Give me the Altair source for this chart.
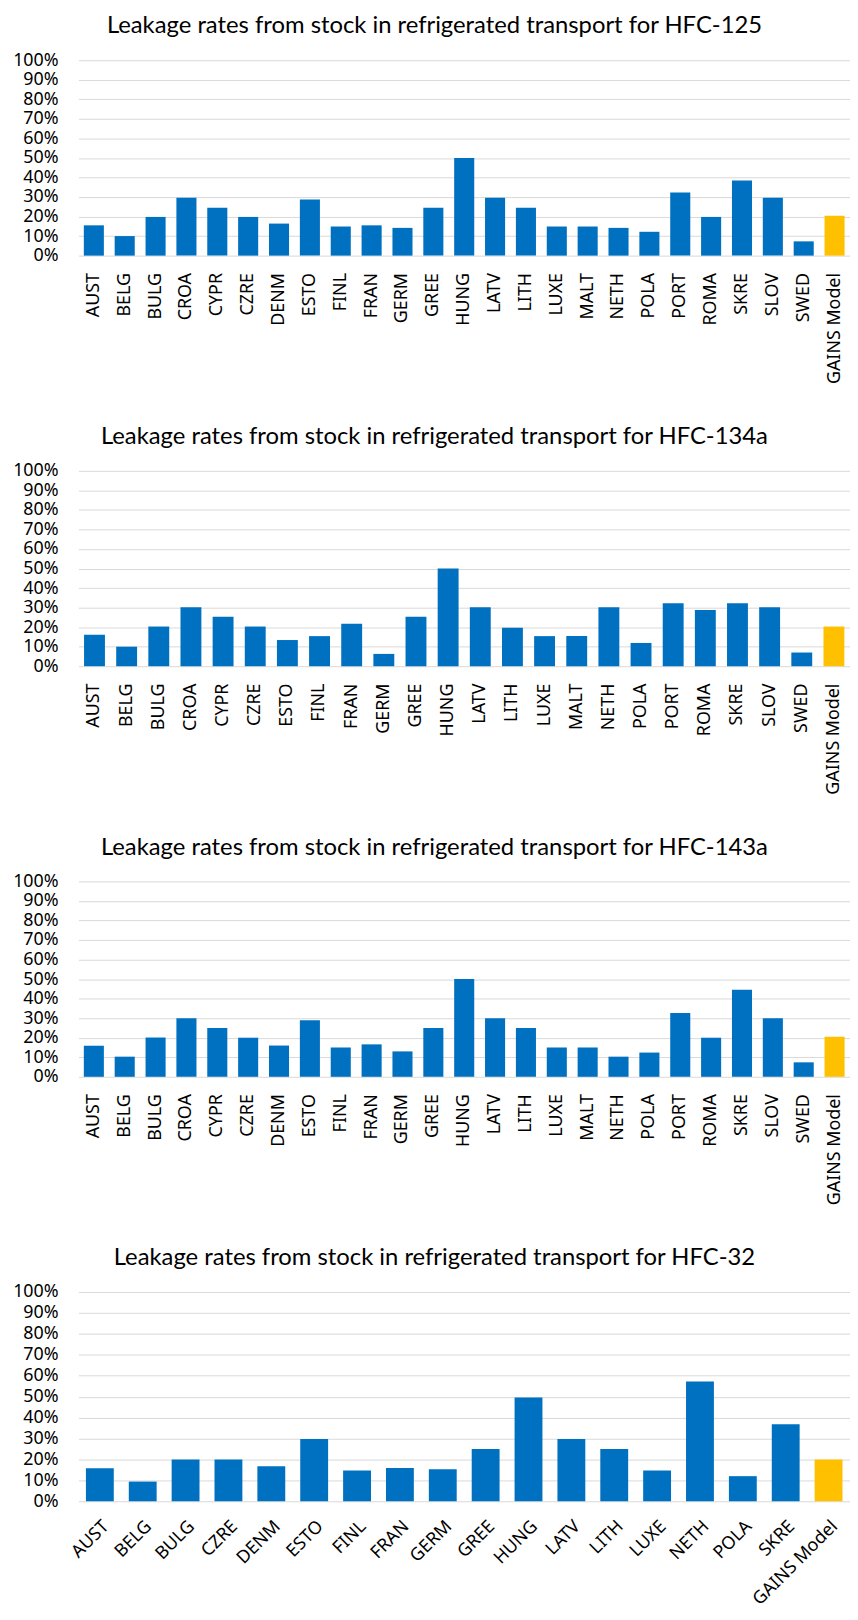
import altair as alt
import pandas as pd

cats_125 = ["AUST", "BELG", "BULG", "CROA", "CYPR", "CZRE", "DENM", "ESTO", "FINL", "FRAN",
            "GERM", "GREE", "HUNG", "LATV", "LITH", "LUXE", "MALT", "NETH", "POLA", "PORT",
            "ROMA", "SKRE", "SLOV", "SWED", "GAINS Model"]
vals_125 = [15.5, 10.0, 19.8, 29.6, 24.5, 19.8, 16.4, 28.7, 14.9, 15.5,
            14.2, 24.5, 50.0, 29.6, 24.5, 14.9, 14.9, 14.2, 12.2, 32.3,
            19.8, 38.5, 29.6, 7.3, 20.4]

cats_134a = ["AUST", "BELG", "BULG", "CROA", "CYPR", "CZRE", "ESTO", "FINL", "FRAN", "GERM",
             "GREE", "HUNG", "LATV", "LITH", "LUXE", "MALT", "NETH", "POLA", "PORT", "ROMA",
             "SKRE", "SLOV", "SWED", "GAINS Model"]
vals_134a = [16.1, 10.0, 20.3, 30.2, 25.3, 20.3, 13.4, 15.4, 21.7, 6.3,
             25.3, 50.0, 30.2, 19.7, 15.4, 15.4, 30.2, 11.9, 32.2, 28.8,
             32.2, 30.2, 7.0, 20.3]

cats_143a = ["AUST", "BELG", "BULG", "CROA", "CYPR", "CZRE", "DENM", "ESTO", "FINL", "FRAN",
             "GERM", "GREE", "HUNG", "LATV", "LITH", "LUXE", "MALT", "NETH", "POLA", "PORT",
             "ROMA", "SKRE", "SLOV", "SWED", "GAINS Model"]
vals_143a = [15.9, 10.3, 20.1, 30.0, 25.0, 20.0, 16.0, 29.0, 15.0, 16.6,
             13.0, 25.0, 50.0, 30.0, 25.0, 15.0, 15.0, 10.3, 12.4, 32.7,
             20.0, 44.5, 30.0, 7.4, 20.5]

cats_32 = ["AUST", "BELG", "BULG", "CZRE", "DENM", "ESTO", "FINL", "FRAN", "GERM", "GREE",
           "HUNG", "LATV", "LITH", "LUXE", "NETH", "POLA", "SKRE", "GAINS Model"]
vals_32 = [15.8, 9.4, 20.0, 20.0, 16.7, 29.7, 14.7, 15.9, 15.3, 25.0,
           49.6, 29.7, 25.0, 14.7, 57.2, 12.0, 36.8, 20.0]

BLUE = "#0070C0"
GOLD = "#FFC000"
TICKS = [i / 10 for i in range(11)]
LABEL_FONT = "Noto Sans"


def panel(title, cats, vals, height, slanted=False):
    df = pd.DataFrame({
        "cat": cats,
        "val": [v / 100 for v in vals],
        "kind": ["model" if c == "GAINS Model" else "country" for c in cats],
    })
    if slanted:
        xaxis = alt.Axis(labelAngle=-45, ticks=False, domain=False, labelPadding=16,
                         labelFont=LABEL_FONT, labelFontSize=18, labelColor="#000000")
    else:
        xaxis = alt.Axis(labelAngle=-90, ticks=False, domain=False, labelPadding=17,
                         labelFont=LABEL_FONT, labelFontSize=18, labelColor="#000000")
    return alt.Chart(df).mark_bar().encode(
        x=alt.X("cat:N", sort=cats, title=None,
                scale=alt.Scale(paddingInner=0.35, paddingOuter=0.175),
                axis=xaxis),
        y=alt.Y("val:Q", title=None, scale=alt.Scale(domain=[0, 1]),
                axis=alt.Axis(format=".0%", values=TICKS, grid=True, gridColor="#D9D9D9",
                              gridWidth=1, domain=False, ticks=False, labelPadding=20.5,
                              labelFont=LABEL_FONT, labelFontSize=18, labelColor="#000000")),
        color=alt.Color("kind:N", legend=None,
                        scale=alt.Scale(domain=["country", "model"], range=[BLUE, GOLD])),
    ).properties(
        width=778, height=height,
        title=alt.TitleParams(title, font="Lato", fontSize=24, fontWeight="normal",
                              color="#000000", baseline="alphabetic", offset=-6,
                              anchor="middle", frame="group", dx=-30),
    )


c1 = panel("Leakage rates from stock in refrigerated transport for HFC-125", cats_125, vals_125, 197)
c2 = panel("Leakage rates from stock in refrigerated transport for HFC-134a", cats_134a, vals_134a, 197)
c3 = panel("Leakage rates from stock in refrigerated transport for HFC-143a", cats_143a, vals_143a, 197)
c4 = panel("Leakage rates from stock in refrigerated transport for HFC-32", cats_32, vals_32, 211, slanted=True)

chart = alt.vconcat(c1, c2, c3, c4, spacing=217, bounds="flush").configure_view(
    stroke=None
).properties(
    padding={"left": 4, "top": 0, "right": 0, "bottom": 0},
    background="#ffffff",
)

chart.save("out.html", embed_options={"renderer": "svg", "actions": False})
